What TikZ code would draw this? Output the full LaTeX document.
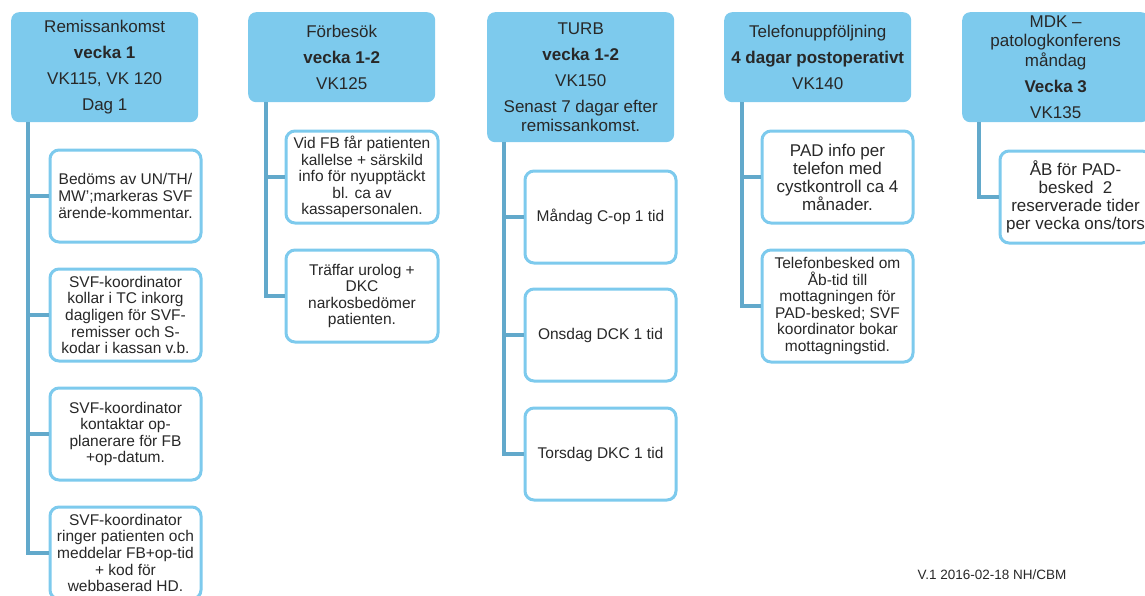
\documentclass[tikz,border=0pt]{standalone}
\usepackage{fontspec}
\setmainfont{Liberation Sans}
\definecolor{headblue}{RGB}{125,202,237}
\definecolor{edgeblue}{RGB}{125,202,237}
\definecolor{trunkblue}{RGB}{98,169,203}
\definecolor{inkgray}{RGB}{40,40,40}
\tikzset{
  head/.style={anchor=north west, fill=headblue, rounded corners=8pt, align=center,
    text=inkgray, minimum width=187pt, font=\fontsize{17}{19.5}\selectfont},
  sub/.style={anchor=north west, draw=edgeblue, line width=3pt, fill=white,
    rounded corners=9pt, align=center, text=inkgray, minimum width=151pt,
    minimum height=92pt, font=\fontsize{15.5}{16.6}\selectfont},
  subbig/.style={sub, font=\fontsize{17}{18}\selectfont},
  trunk/.style={draw=trunkblue, line width=3.5pt},
}

\begin{document}
\begin{tikzpicture}[x=1pt,y=-1pt]
  \useasboundingbox (0,0) rectangle (1145,595);
  % column heads
  \node[head, minimum height=110pt] (remiss) at (11,12)
    {Remissankomst\\[6.5pt]\textbf{vecka 1}\\[6.5pt]VK115, VK 120\\[6.5pt]Dag 1};
  \node[head, minimum height=90pt] (forbes) at (248,12)
    {Förbesök\\[6.5pt]\textbf{vecka 1-2}\\[6.5pt]VK125};
  \node[head, minimum height=130pt] (turb) at (487,12)
    {TURB\\[6.5pt]\textbf{vecka 1-2}\\[6.5pt]VK150\\[6.5pt]Senast 7 dagar efter\\remissankomst.};
  \node[head, minimum height=90pt] (telef) at (724,12)
    {Telefonuppföljning\\[6.5pt]\textbf{4 dagar postoperativt}\\[6.5pt]VK140};
  \node[head, minimum height=110pt] (mdk) at (962,12)
    {MDK --\\patologkonferens\\måndag\\[6.5pt]\textbf{Vecka 3}\\[6.5pt]VK135};

  % remissankomst
  \node[sub] (r1) at (48.5,148.5) {Bedöms av UN/TH/\\MW’;markeras SVF\\ärende-kommentar.};
  \node[sub] (r2) at (48.5,267.5) {SVF-koordinator\\kollar i TC inkorg\\dagligen för SVF-\\remisser och S-\\kodar i kassan v.b.};
  \node[sub] (r3) at (48.5,386.5) {SVF-koordinator\\kontaktar op-\\planerare för FB\\+op-datum.};
  \node[sub] (r4) at (48.5,505.5) {SVF-koordinator\\ringer patienten och\\meddelar FB+op-tid\\+ kod för\\webbaserad HD.};

  % forbesok
  \node[sub, minimum width=152pt] (f1) at (284.5,129.5) {Vid FB får patienten\\kallelse + särskild\\info för nyupptäckt\\bl. ca av\\kassapersonalen.};
  \node[sub, minimum width=152pt] (f2) at (284.5,248.5) {Träffar urolog +\\DKC\\narkosbedömer\\patienten.};

  % turb
  \node[sub] (t1) at (523.5,169.5) {Måndag C-op 1 tid};
  \node[sub] (t2) at (523.5,287.5) {Onsdag DCK 1 tid};
  \node[sub] (t3) at (523.5,406.5) {Torsdag DKC 1 tid};

  % telefon
  \node[subbig] (p1) at (760.5,129.5) {PAD info per\\telefon med\\cystkontroll ca 4\\månader.};
  \node[sub, minimum height=112pt] (p2) at (760.5,248.5) {Telefonbesked om\\Åb-tid till\\mottagningen för\\PAD-besked; SVF\\koordinator bokar\\mottagningstid.};

  % mdk
  \node[subbig] (m1) at (998.5,149.5) {ÅB för PAD-\\besked\ \ 2\\reserverade tider\\per vecka ons/tors};

  % trunks and stubs
  \coordinate (kr) at ([xshift=17pt]remiss.south west);
  \coordinate (kf) at ([xshift=18pt]forbes.south west);
  \coordinate (kt) at ([xshift=17pt]turb.south west);
  \coordinate (kp) at ([xshift=18pt]telef.south west);
  \coordinate (km) at ([xshift=17pt]mdk.south west);
  \draw[trunk] (kr) |- (r4.west);
  \foreach \c in {r1,r2,r3} \draw[trunk] (kr |- \c.west) -- (\c.west);
  \draw[trunk] (kf) |- (f2.west);
  \draw[trunk] (kf |- f1.west) -- (f1.west);
  \draw[trunk] (kt) |- (t3.west);
  \foreach \c in {t1,t2} \draw[trunk] (kt |- \c.west) -- (\c.west);
  \draw[trunk] (kp) |- (p2.west);
  \draw[trunk] (kp |- p1.west) -- (p1.west);
  \draw[trunk] (km) |- (m1.west);

  % version note
  \node[text=inkgray, font=\fontsize{13.5}{16}\selectfont] (ver) at (992,575) {V.1 2016-02-18 NH/CBM};
\end{tikzpicture}
\end{document}
